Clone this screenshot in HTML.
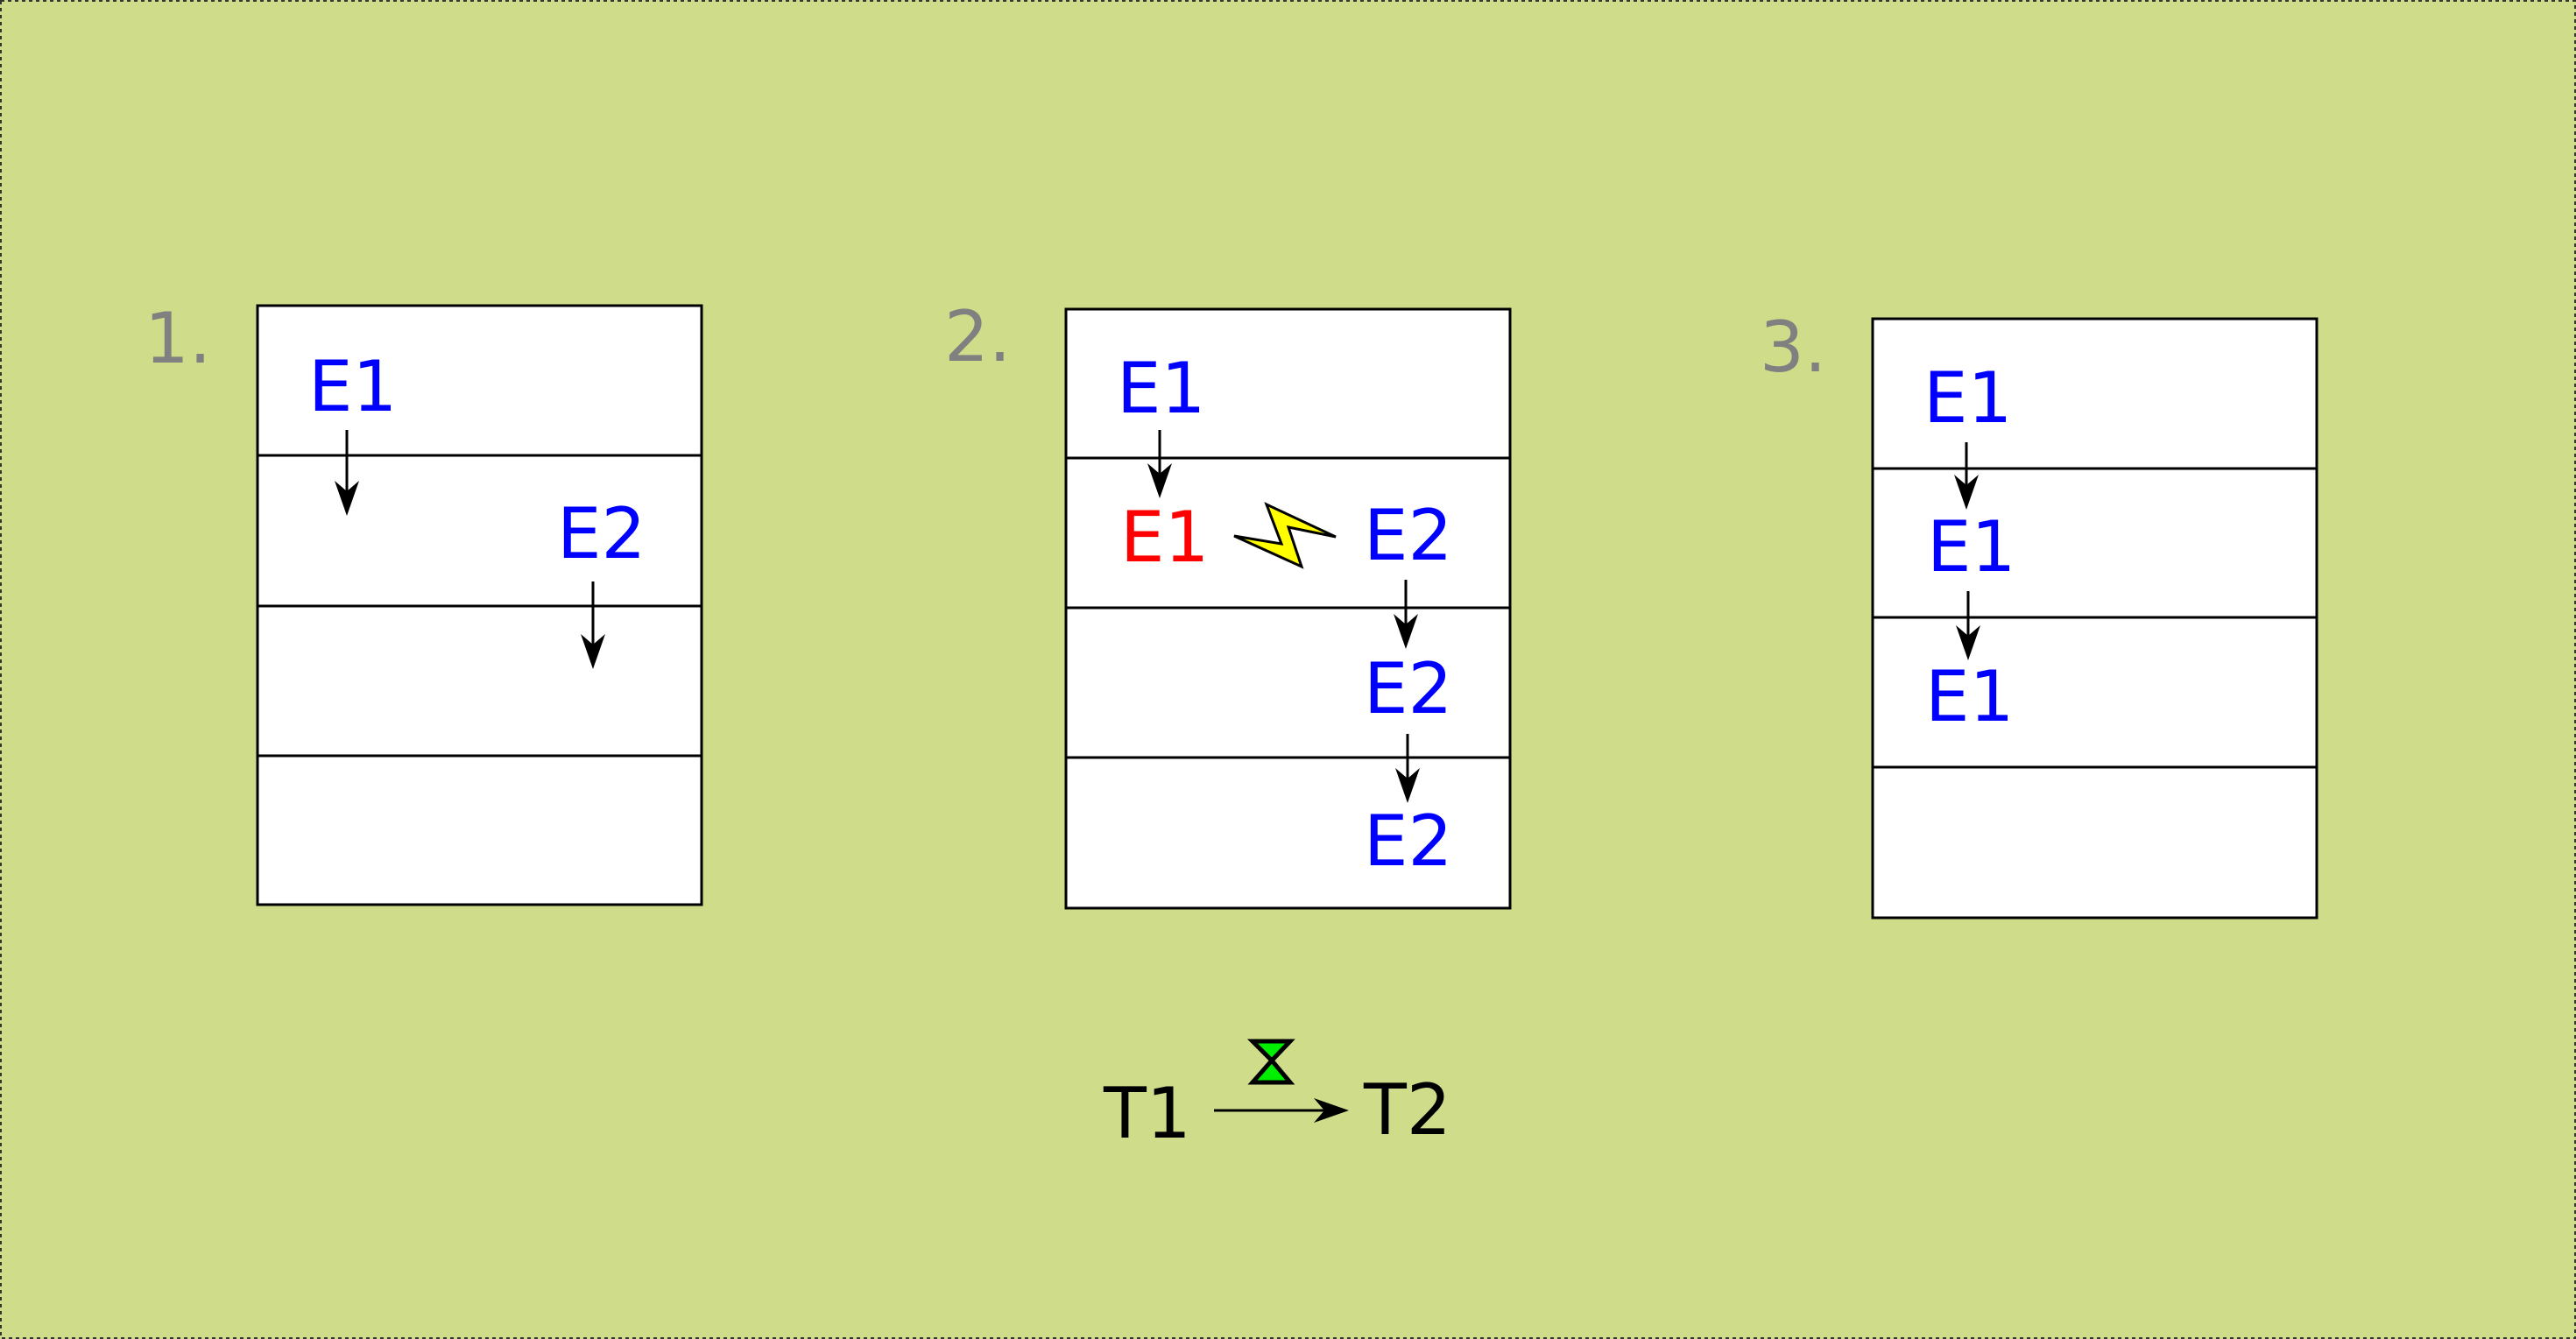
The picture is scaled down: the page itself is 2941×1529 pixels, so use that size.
<!DOCTYPE html>
<html><head><meta charset="utf-8"><style>
html,body{margin:0;padding:0;background:#cfdd8b;}
svg{display:block;}
text{font-family:"DejaVu Sans","Liberation Sans",sans-serif;font-size:80px;}
.b{fill:#0000ff}.g{fill:#808080}
</style></head><body>
<svg width="2941" height="1529" viewBox="0 0 2941 1529">
<defs>
<marker id="ah2" viewBox="0 0 10 10" refX="9" refY="5" markerWidth="40" markerHeight="40" orient="auto" markerUnits="userSpaceOnUse"><path d="M0,1.5 L10,5 L0,8.5 L3,5 Z" fill="#000"/></marker></defs>
<rect x="1" y="1" width="2939" height="1527" fill="#cfdd8b" stroke="#333" stroke-width="2" stroke-dasharray="4,4"/>
<g>
<rect x="294" y="349" width="507" height="684" fill="#fff" stroke="#000" stroke-width="3"/>
<line x1="294" y1="520" x2="801" y2="520" stroke="#000" stroke-width="3"/>
<line x1="294" y1="692" x2="801" y2="692" stroke="#000" stroke-width="3"/>
<line x1="294" y1="863" x2="801" y2="863" stroke="#000" stroke-width="3"/>
<g transform="translate(0,-4)">
<text x="165" y="418" class="g">1.</text>
<text x="352" y="473" class="b">E1</text>
<text x="636" y="641" class="b">E2</text>
</g>
<line x1="396" y1="491" x2="396" y2="585" stroke="#000" stroke-width="3" marker-end="url(#ah2)"/>
<line x1="677" y1="664" x2="677" y2="760" stroke="#000" stroke-width="3" marker-end="url(#ah2)"/>
</g>
<g>
<rect x="1217" y="353" width="507" height="684" fill="#fff" stroke="#000" stroke-width="3"/>
<line x1="1217" y1="523" x2="1724" y2="523" stroke="#000" stroke-width="3"/>
<line x1="1217" y1="694" x2="1724" y2="694" stroke="#000" stroke-width="3"/>
<line x1="1217" y1="865" x2="1724" y2="865" stroke="#000" stroke-width="3"/>
<g transform="translate(0,-4)">
<text x="1078" y="416" class="g">2.</text>
<text x="1275" y="475" class="b">E1</text>
<text x="1279" y="645" fill="#ff0000">E1</text>
<text x="1557" y="643" class="b">E2</text>
<text x="1557" y="818" class="b">E2</text>
<text x="1557" y="992" class="b">E2</text>
</g>
<line x1="1324" y1="491" x2="1324" y2="565" stroke="#000" stroke-width="3" marker-end="url(#ah2)"/>
<line x1="1605" y1="662" x2="1605" y2="737" stroke="#000" stroke-width="3" marker-end="url(#ah2)"/>
<line x1="1607" y1="838" x2="1607" y2="913" stroke="#000" stroke-width="3" marker-end="url(#ah2)"/>
<polygon points="1409,612 1463,621 1446,576 1525,613 1471,602 1486,647" fill="#ffff00" stroke="#000" stroke-width="3" stroke-linejoin="miter"/>
</g>
<g>
<rect x="2138" y="364" width="507" height="684" fill="#fff" stroke="#000" stroke-width="3"/>
<line x1="2138" y1="535" x2="2645" y2="535" stroke="#000" stroke-width="3"/>
<line x1="2138" y1="705" x2="2645" y2="705" stroke="#000" stroke-width="3"/>
<line x1="2138" y1="876" x2="2645" y2="876" stroke="#000" stroke-width="3"/>
<g transform="translate(0,-4)">
<text x="2009" y="428" class="g">3.</text>
<text x="2196" y="486" class="b">E1</text>
<text x="2200" y="656" class="b">E1</text>
<text x="2198" y="827" class="b">E1</text>
</g>
<line x1="2245" y1="505" x2="2245" y2="578" stroke="#000" stroke-width="3" marker-end="url(#ah2)"/>
<line x1="2247" y1="675" x2="2247" y2="750" stroke="#000" stroke-width="3" marker-end="url(#ah2)"/>
</g>
<g>
<g transform="translate(0,-3)">
<text x="1260" y="1302" fill="#000">T1</text>
<text x="1557" y="1298" fill="#000">T2</text>
</g>
<line x1="1386" y1="1268" x2="1536" y2="1268" stroke="#000" stroke-width="3" marker-end="url(#ah2)"/>
<path d="M1430,1189 L1473,1189 L1452,1211 Z M1452,1211 L1473,1236 L1430,1236 Z" fill="#00ee00" stroke="#000" stroke-width="5" stroke-linejoin="miter"/>
</g>
</svg>
</body></html>
